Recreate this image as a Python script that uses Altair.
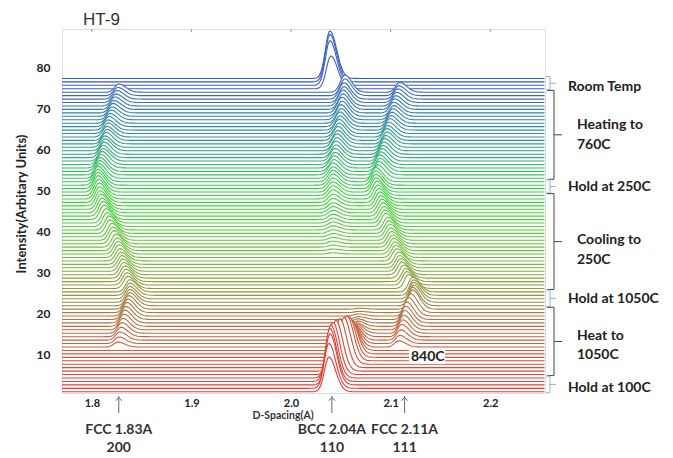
import altair as alt
import numpy as np
import pandas as pd

# ---------------- data ----------------
N_TRACES = 92
OFFSET0 = 1.0      # baseline of first trace (intensity units)
OFFSET_STEP = 0.84 # waterfall offset between consecutive traces

# BCC 110 peak (d-spacing, height) per trace, bottom (0) to top (91)
BCC_POS = [2.038, 2.038, 2.039, 2.039, 2.040,
           2.042, 2.045, 2.049, 2.053, 2.056, 2.058, 2.060, 2.061, 2.062, 2.063,
           2.064, 2.065, 2.066, 2.066, 2.067, 2.067, 2.068, 2.068, 2.069, 2.069,
           2.069, 2.069, 2.069, 2.069, 2.069,
           2.042, 2.042, 2.042, 2.042, 2.042, 2.042, 2.042, 2.042, 2.042, 2.042,
           2.042, 2.042, 2.042, 2.042, 2.042, 2.042, 2.042, 2.042, 2.042, 2.042,
           2.042, 2.042, 2.042, 2.042, 2.042, 2.042, 2.042, 2.042,
           2.042, 2.042, 2.042, 2.042,
           2.042, 2.042, 2.043, 2.043, 2.044, 2.044, 2.045, 2.045, 2.046, 2.046,
           2.047, 2.047, 2.048, 2.048, 2.049, 2.049, 2.050, 2.050, 2.051, 2.051,
           2.052, 2.052, 2.053, 2.053, 2.054, 2.054,
           2.040, 2.039, 2.039, 2.039]
BCC_H = [8.5, 11.0, 12.5, 13.0, 13.0,
         12.8, 12.5, 12.0, 11.5, 11.0, 10.0, 8.5, 7.0, 5.5, 4.5,
         3.5, 2.8, 2.2, 1.7, 1.3, 1.0, 0.7, 0.5, 0.3, 0.2,
         0.0, 0.0, 0.0, 0.0, 0.0,
         0.0, 0.0, 0.0, 0.0, 0.0, 0.0, 0.0, 0.0, 0.0, 0.0,
         0.3, 0.4, 0.5, 0.6, 0.7, 0.8, 0.9, 1.0, 1.1, 1.2,
         1.3, 1.4, 1.5, 1.6, 1.8, 2.0, 2.2, 2.4,
         2.5, 2.6, 2.7, 2.8,
         2.8, 2.9, 2.9, 3.0, 3.0, 3.1, 3.1, 3.2, 3.2, 3.3,
         3.3, 3.4, 3.4, 3.5, 3.5, 3.6, 3.6, 3.7, 3.7, 3.8,
         3.8, 3.9, 3.9, 4.0, 4.1, 4.2,
         8.0, 10.9, 11.6, 11.6]

# FCC 111 peak
F111_POS = [2.108] * 13 + [
            2.108, 2.109, 2.110, 2.111, 2.112, 2.113, 2.114, 2.115, 2.116, 2.118, 2.120, 2.122,
            2.122, 2.123, 2.123, 2.123, 2.122,
            2.118, 2.116, 2.115, 2.113, 2.111, 2.110, 2.109, 2.108, 2.106, 2.105,
            2.104, 2.103, 2.102, 2.101, 2.100, 2.099, 2.098, 2.097, 2.095, 2.094,
            2.093, 2.092, 2.091, 2.090, 2.089, 2.088, 2.087, 2.086,
            2.085, 2.085, 2.085, 2.085,
            2.087, 2.088, 2.089, 2.089, 2.090, 2.091, 2.092, 2.093, 2.094, 2.095,
            2.096, 2.096, 2.097, 2.098, 2.099, 2.100, 2.101, 2.102, 2.103, 2.103,
            2.104, 2.105, 2.106, 2.107, 2.108, 2.109,
            2.109, 2.109, 2.109, 2.109]
F111_H = [0.0] * 13 + [
          1.5, 2.0, 2.5, 3.0, 3.3, 3.6, 3.9, 4.1, 4.3, 4.5, 4.6, 4.7,
          4.5, 4.2, 4.0, 3.8, 3.6,
          3.4, 3.3, 3.2, 3.2, 3.1, 3.1, 3.0, 3.0, 3.0, 3.0,
          3.0, 3.0, 3.0, 3.0, 3.0, 3.1, 3.1, 3.1, 3.2, 3.2,
          3.2, 3.3, 3.3, 3.3, 3.4, 3.4, 3.4, 3.5,
          3.5, 3.5, 3.5, 3.5,
          3.3, 3.3, 3.2, 3.2, 3.1, 3.1, 3.0, 3.0, 3.0, 2.9,
          2.9, 2.9, 2.8, 2.8, 2.8, 2.7, 2.7, 2.7, 2.6, 2.6,
          2.6, 2.5, 2.5, 2.5, 2.4, 2.4,
          0.0, 0.0, 0.0, 0.0]

# FCC 200 peak
F200_POS = [1.826] * 13 + [
            1.826, 1.827, 1.828, 1.829, 1.830, 1.831, 1.832, 1.833, 1.834, 1.835, 1.836, 1.837,
            1.838, 1.838, 1.838, 1.838, 1.838,
            1.836, 1.835, 1.834, 1.833, 1.832, 1.831, 1.830, 1.829, 1.828, 1.827,
            1.826, 1.825, 1.824, 1.822, 1.821, 1.820, 1.818, 1.817, 1.815, 1.814,
            1.812, 1.811, 1.810, 1.809, 1.808, 1.8075, 1.807, 1.8065,
            1.806, 1.806, 1.806, 1.806,
            1.807, 1.808, 1.808, 1.809, 1.810, 1.811, 1.811, 1.812, 1.813, 1.813,
            1.814, 1.815, 1.815, 1.816, 1.816, 1.817, 1.818, 1.819, 1.820, 1.821,
            1.822, 1.823, 1.824, 1.825, 1.826, 1.827,
            1.827, 1.827, 1.827, 1.827]
F200_H = [0.0] * 13 + [
          1.2, 1.6, 2.0, 2.3, 2.6, 2.8, 3.0, 3.1, 3.2, 3.3, 3.3, 3.3,
          3.2, 3.1, 3.0, 3.0, 3.0,
          3.0, 3.0, 3.0, 3.0, 3.0, 3.0, 3.0, 3.0, 3.0, 3.1,
          3.1, 3.1, 3.2, 3.2, 3.2, 3.3, 3.3, 3.4, 3.4, 3.5,
          3.5, 3.6, 3.6, 3.7, 3.7, 3.8, 3.9, 4.0,
          4.0, 4.0, 3.9, 3.8,
          3.6, 3.5, 3.4, 3.3, 3.2, 3.1, 3.0, 3.0, 2.9, 2.8,
          2.8, 2.7, 2.6, 2.6, 2.5, 2.5, 2.4, 2.4, 2.3, 2.3,
          2.2, 2.2, 2.1, 2.1, 2.0, 2.0,
          0.0, 0.0, 0.0, 0.0]

X_TICKS = [1.8, 1.9, 2.0, 2.1, 2.2]
Y_TICKS = [10, 20, 30, 40, 50, 60, 70, 80]

ARROW_D = [1.827, 2.041, 2.114]
ARROW_LABELS = ["FCC 1.83A", "BCC 2.04A", "FCC 2.11A"]
ARROW_HKL = ["200", "110", "111"]

# segments: (first trace, last trace, label lines, is_hold)
SEGMENTS = [(88, 91, ["Room Temp"], True),
            (62, 87, ["Heating to", "760C"], False),
            (58, 61, ["Hold at 250C"], True),
            (30, 57, ["Cooling to", "250C"], False),
            (25, 29, ["Hold at 1050C"], True),
            (5, 24, ["Heat to", "1050C"], False),
            (0, 4, ["Hold at 100C"], True)]

TITLE = "HT-9"
Y_TITLE = "Intensity(Arbitary Units)"
X_TITLE = "D-Spacing(A)"
NOTE_840 = "840C"

# ---------------- styling ----------------
FONT = "Lato"
COLOR_T = [0, 14, 24, 30, 41, 56, 62, 70, 79, 88, 91]
COLOR_RANGE = ["#e83a32", "#c8603e", "#a48044", "#8e9c40", "#6cc23e", "#3ed43e",
               "#3cc462", "#30a284", "#3282aa", "#4062c2", "#3a55c8"]
SIG = {"bcc": (0.0045, 0.0068), "f111": (0.0040, 0.0070), "f200": (0.0040, 0.0070)}

W, H = 483, 364
XSCALE = alt.Scale(domain=[1.77, 2.255], nice=False, zero=False)
YSCALE = alt.Scale(domain=[0.7, 89.5], nice=False, zero=False)
XAX = alt.Axis(values=X_TICKS, format=".1f", title=None, grid=False, ticks=False,
               domain=False, labelFont=FONT, labelFontSize=11, labelFontWeight="bold",
               labelColor="#222", labelPadding=4)
YAX = alt.Axis(values=Y_TICKS, title=None, grid=False, ticks=False, domain=False,
               labelFont=FONT, labelFontSize=12, labelFontWeight="bold",
               labelColor="#222", labelPadding=12)


def X(field="x"):
    return alt.X(f"{field}:Q", scale=XSCALE, axis=XAX)


def Y(field="y"):
    return alt.Y(f"{field}:Q", scale=YSCALE, axis=YAX)


COLOR = alt.Color("t:Q", scale=alt.Scale(domain=COLOR_T, range=COLOR_RANGE,
                                         interpolate="rgb"), legend=None)

xs = np.round(np.arange(1.77, 2.2551, 0.0015), 4)


def peak(p, h, sig):
    sl, sr = sig
    s = np.where(xs < p, sl, sr)
    return h * np.exp(-0.5 * ((xs - p) / s) ** 2)


layers = []
baselines = []
for i in range(N_TRACES):
    baselines.append(OFFSET0 + OFFSET_STEP * i)

for i in reversed(range(N_TRACES)):
    b = baselines[i]
    y = (b + peak(BCC_POS[i], BCC_H[i], SIG["bcc"])
         + peak(F111_POS[i], F111_H[i], SIG["f111"])
         + peak(F200_POS[i], F200_H[i], SIG["f200"]))
    df = pd.DataFrame({"x": xs, "y": np.round(y, 3), "b": round(b, 3), "t": i})
    base = alt.Chart(df)
    layers.append(base.mark_area(color="white", opacity=1).encode(
        x=X(), y=Y(), y2="b:Q"))
    layers.append(base.mark_line(strokeWidth=1.1).encode(
        x=X(), y=Y(), color=COLOR))

# top frame ticks
tick_df = pd.DataFrame({"x": X_TICKS})
layers.append(alt.Chart(tick_df).mark_rule(color="#999", strokeWidth=1).encode(
    x=X(), y=alt.value(0), y2=alt.value(3)))

# arrows under the axis
arr_df = pd.DataFrame({"x": ARROW_D})
layers.append(alt.Chart(arr_df).mark_rule(color="#666", strokeWidth=1).encode(
    x=X(), y=alt.value(367), y2=alt.value(384)))
layers.append(alt.Chart(arr_df).mark_point(
    shape="M-1,1L0,0L1,1", filled=False, size=40, color="#666", strokeWidth=1,
    opacity=1).encode(x=X(), y=alt.value(368.5)))
arr_lab = pd.DataFrame({"x": ARROW_D, "lab": ARROW_LABELS, "hkl": ARROW_HKL})
layers.append(alt.Chart(arr_lab).mark_text(
    font=FONT, fontSize=14, fontWeight="bold", color="#333", align="center",
    baseline="middle").encode(x=X(), y=alt.value(401), text="lab:N"))
layers.append(alt.Chart(arr_lab).mark_text(
    font=FONT, fontSize=14, fontWeight="bold", color="#333", align="center",
    baseline="middle").encode(x=X(), y=alt.value(419), text="hkl:N"))

DUMMY = alt.Data(values=[{"a": 1}])


def txt(s, x, y, size=14, weight="bold", align="left", color="#222", angle=0,
        font=FONT, baseline="middle"):
    return alt.Chart(DUMMY).mark_text(
        text=s, font=font, fontSize=size, fontWeight=weight, align=align,
        baseline=baseline, color=color, angle=angle).encode(
        x=alt.value(x), y=alt.value(y))


# brackets on the right
seg_text_y = {0: [58], 1: [96, 116], 2: [158], 3: [211, 231], 4: [270],
              5: [307, 326], 6: [359]}
for k, (s0, s1, lines, hold) in enumerate(SEGMENTS):
    y_lo = baselines[s0] - 0.25
    y_hi = baselines[s1] + 0.45
    bdf = pd.DataFrame({"y": [y_lo], "y2": [y_hi], "ym": [(y_lo + y_hi) / 2]})
    col = "#8cb6dc" if hold else "#444"
    xe, xv, xt = (484, 488, 494) if hold else (485, 492, 500)
    bc = alt.Chart(bdf)
    layers.append(bc.mark_rule(color=col, strokeWidth=1).encode(
        x=alt.value(xv), y=Y("y"), y2="y2:Q"))
    layers.append(bc.mark_rule(color=col, strokeWidth=1).encode(
        x=alt.value(xe), x2=alt.value(xv), y=Y("y")))
    layers.append(bc.mark_rule(color=col, strokeWidth=1).encode(
        x=alt.value(xe), x2=alt.value(xv), y=Y("y2")))
    layers.append(bc.mark_rule(color=col, strokeWidth=1).encode(
        x=alt.value(xv), x2=alt.value(xt), y=Y("ym")))
    tx = 506 if hold else 515
    for line, ty in zip(lines, seg_text_y[k]):
        layers.append(txt(line, tx, ty))

# 840C note with white backing
layers.append(alt.Chart(DUMMY).mark_rect(color="white").encode(
    x=alt.value(347), x2=alt.value(383), y=alt.value(321), y2=alt.value(335)))
layers.append(txt(NOTE_840, 349, 328))

# titles
layers.append(txt(X_TITLE, 221, 387, size=10.5, align="center", color="#333"))
layers.append(txt(Y_TITLE, -40, 175, size=13, align="center", color="#222",
                  angle=270))
layers.append(txt(TITLE, 21, -4, size=17, weight="normal", color="#333",
                  font="Liberation Sans", baseline="alphabetic"))

chart = alt.layer(*layers).properties(
    width=W, height=H, autosize="none",
    padding={"left": 54, "top": 21, "right": 120, "bottom": 65},
).configure_view(stroke="#999", strokeWidth=1).configure(background="white")

chart.save("out.html", embed_options={"renderer": "svg", "actions": False})
